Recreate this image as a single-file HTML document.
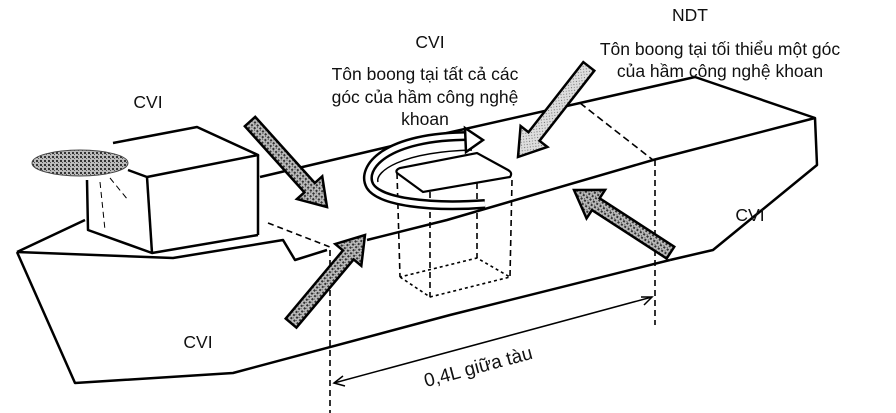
<!DOCTYPE html>
<html><head><meta charset="utf-8"><style>
body{margin:0;background:#fff;}
svg{display:block;}
text{font-family:"Liberation Sans",sans-serif;font-size:17.5px;fill:#111;}
</style></head><body>
<svg width="896" height="413" viewBox="0 0 896 413" xmlns="http://www.w3.org/2000/svg">
<defs>
<pattern id="h" width="4" height="4" patternUnits="userSpaceOnUse">
<rect width="4" height="4" fill="#bbb"/><rect width="2" height="2" fill="#333"/><rect x="2" y="2" width="1" height="1" fill="#555"/>
</pattern>
<pattern id="h2" width="4" height="4" patternUnits="userSpaceOnUse">
<rect width="4" height="4" fill="#ddd"/><rect width="1" height="1" fill="#666"/><rect x="2" y="2" width="1" height="1" fill="#888"/>
</pattern>
<g id="arr"><polygon points="-26,-7 -115,-7 -115,7 -26,7 -26,17 0,0 -26,-17" stroke="#000" stroke-width="2.5" stroke-linejoin="miter"/></g>
</defs>
<g fill="none" stroke="#000" stroke-width="2.5" stroke-linejoin="round">
<polyline points="447,133 580,103 695,77 815,118 817,165 713,250 670,260"/>
<polyline points="815,118 653,160 447,220 367,240"/>
<polyline points="17,252 85,220"/>
<polyline points="17,252 75,383 233,373 450,315 670,260"/>
<polyline points="17,252 173,258 283,240 295,260 327,250"/>
<polyline points="260,177 447,133"/>
<polyline points="113,143 197,127 258,155 147,177 128,170"/>
<line x1="147" y1="177" x2="152" y2="253"/>
<line x1="258" y1="155" x2="258" y2="235"/>
<polyline points="87,180 88,230 152,253 258,235"/>
</g>
<g fill="none" stroke="#000" stroke-width="1.6" stroke-dasharray="6,4">
<line x1="268" y1="223" x2="330" y2="247"/>
<line x1="580" y1="103" x2="653" y2="160" stroke-dasharray="7,4"/>
<line x1="330" y1="250" x2="330" y2="413"/>
<line x1="655" y1="160" x2="655" y2="325"/>
<line x1="397" y1="173" x2="400" y2="277"/>
<line x1="430" y1="192" x2="430" y2="297"/>
<line x1="512" y1="180" x2="510" y2="277"/>
<line x1="477" y1="153" x2="477" y2="258"/>
<polyline points="400,277 430,297 510,277 477,258 400,277" stroke-dasharray="3,3"/>
<line x1="100" y1="182" x2="105" y2="230" stroke-width="1"/>
<line x1="110" y1="178" x2="128" y2="200" stroke-width="1"/>
</g>
<ellipse cx="80" cy="163" rx="48" ry="13" fill="url(#h)" stroke="#444" stroke-width="1"/>
<path d="M397,173 L423,192 L510,177 Q513,173 508,170 L477,153 L400,168 Q395,170 397,173 Z" fill="#fff" stroke="#000" stroke-width="2.2"/>
<path d="M470,136 C385,136 360,168 370,186 C380,202 430,208 485,204" fill="none" stroke="#000" stroke-width="10"/>
<path d="M470,136 C385,136 360,168 370,186 C380,202 430,208 485,204" fill="none" stroke="#fff" stroke-width="5"/>
<path d="M472,150 C400,152 375,172 378,182" fill="none" stroke="#000" stroke-width="1.5"/>
<polygon points="465,128 483,140 466,152" fill="#fff" stroke="#000" stroke-width="2.5"/>
<use href="#arr" fill="url(#h)" transform="translate(327,207) rotate(48)"/>
<use href="#arr" fill="url(#h)" transform="translate(365,235) rotate(-50)"/>
<use href="#arr" fill="url(#h2)" transform="translate(518,157) rotate(128)"/>
<use href="#arr" fill="url(#h)" transform="translate(574,190) rotate(213)"/>
<line x1="334" y1="383" x2="652" y2="297" stroke="#000" stroke-width="1.5"/>
<polyline points="343,376 334,383 345,386" fill="none" stroke="#000" stroke-width="1.5"/>
<polyline points="641,297 652,297 644,305" fill="none" stroke="#000" stroke-width="1.5"/>
<text x="478" y="373" text-anchor="middle" transform="rotate(-15 478 366)" style="font-size:19px">0,4L giữa tàu</text>
<text x="148" y="108" text-anchor="middle">CVI</text>
<text x="430" y="48" text-anchor="middle">CVI</text>
<text x="425" y="80" text-anchor="middle">Tôn boong tại tất cả các</text>
<text x="425" y="103" text-anchor="middle">góc của hầm công nghệ</text>
<text x="425" y="125" text-anchor="middle">khoan</text>
<text x="690" y="21" text-anchor="middle">NDT</text>
<text x="720" y="55" text-anchor="middle">Tôn boong tại tối thiểu một góc</text>
<text x="720" y="77" text-anchor="middle">của hầm công nghệ khoan</text>
<text x="198" y="348" text-anchor="middle">CVI</text>
<text x="750" y="221" text-anchor="middle">CVI</text>
</svg>
</body></html>
